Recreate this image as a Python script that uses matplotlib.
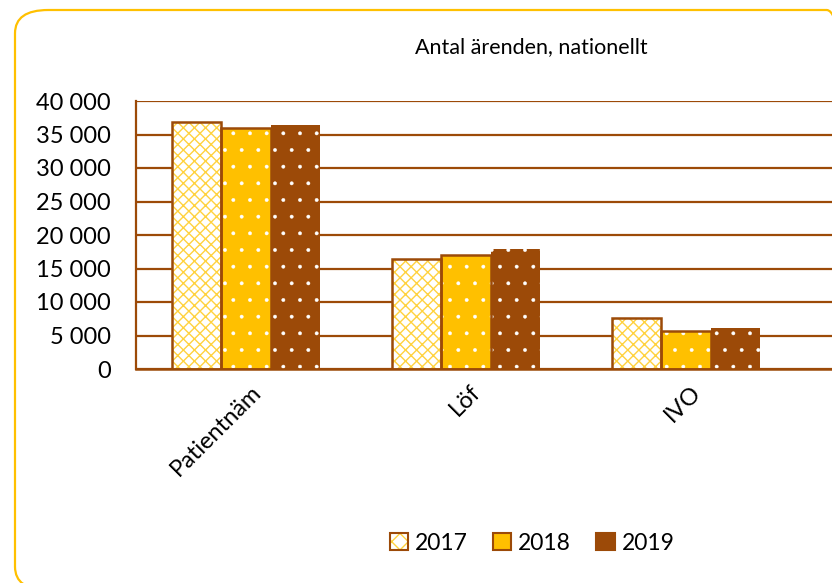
import matplotlib
matplotlib.use("Agg")
import matplotlib.pyplot as plt
import numpy as np
from matplotlib.patches import FancyBboxPatch, Patch
from matplotlib.ticker import FuncFormatter
import matplotlib.transforms as mtransforms

plt.rcParams['font.family'] = ['Lato', 'DejaVu Sans']

categories = ["Patientnäm", "Löf", "IVO"]
years = ["2017", "2018", "2019"]
v2017 = [36900, 16400, 7600]
v2018 = [36000, 17000, 5700]
v2019 = [36400, 17900, 6100]
yticks = [0, 5000, 10000, 15000, 20000, 25000, 30000, 35000, 40000]

BROWN = "#9C4A08"
GOLD = "#FFC000"
LIGHTGOLD = "#FFD23F"

W, H = 832, 583
fig = plt.figure(figsize=(W/100, H/100), dpi=100)

border = FancyBboxPatch((15/W, 1-590/H), (860-15)/W, (590-10)/H,
                        boxstyle="round,pad=0,rounding_size=0.04",
                        transform=fig.transFigure, fill=False,
                        edgecolor=GOLD, linewidth=1.6, clip_on=False)
fig.patches.append(border)

ax = fig.add_axes([136/W, 1-369/H, (W-136)/W, (369-101)/H])
x = np.arange(len(categories))
bw = 0.225

with plt.rc_context({'hatch.linewidth': 1.0}):
    ax.bar(x - bw, v2017, bw, color="white", edgecolor=LIGHTGOLD, hatch="\\\\\\///", linewidth=0, zorder=3)
with plt.rc_context({'hatch.linewidth': 0.3}):
    ax.bar(x, v2018, bw, color=GOLD, edgecolor="white", hatch=".", linewidth=0, zorder=3)
    ax.bar(x + bw, v2019, bw, color=BROWN, edgecolor="white", hatch=".", linewidth=0, zorder=3)
ax.bar(x - bw, v2017, bw, fill=False, edgecolor=BROWN, linewidth=1.8, zorder=4)
ax.bar(x, v2018, bw, fill=False, edgecolor=BROWN, linewidth=1.8, zorder=4)

ax.set_xlim(-0.5, (W - 246) / 220)
ax.set_ylim(0, 40000)
ax.set_yticks(yticks)
ax.yaxis.set_major_formatter(FuncFormatter(lambda v, p: f"{int(v):,}".replace(",", " ")))
ax.tick_params(axis='y', length=0, labelsize=17, pad=18)
ax.tick_params(axis='x', length=0, labelsize=17, pad=9)
ax.set_xticks(x)
ax.set_xticklabels(categories, rotation=45, ha='right', rotation_mode='anchor')
offset = mtransforms.ScaledTranslation(4/100, 0, fig.dpi_scale_trans)
for lbl in ax.get_xticklabels():
    lbl.set_transform(lbl.get_transform() + offset)
ax.grid(axis='y', color=BROWN, linewidth=1.6, zorder=0)
ax.set_axisbelow(True)
for s in ['top', 'right']:
    ax.spines[s].set_visible(False)
ax.spines['left'].set_color(BROWN)
ax.spines['left'].set_linewidth(1.6)
ax.spines['bottom'].set_color(BROWN)
ax.spines['bottom'].set_linewidth(1.8)
ax.spines['bottom'].set_zorder(5)

fig.text(531/W, 1-47/H, "Antal ärenden, nationellt", ha='center', va='center', fontsize=15.5)

with plt.rc_context({'hatch.linewidth': 1.0}):
    h1 = Patch(facecolor="white", edgecolor=LIGHTGOLD, hatch="\\\\//", linewidth=0)
h1b = Patch(facecolor="none", edgecolor=BROWN, linewidth=1.5)
h2 = Patch(facecolor=GOLD, edgecolor=BROWN, linewidth=1.5)
h3 = Patch(facecolor=BROWN, edgecolor=BROWN, linewidth=1.5)
leg = fig.legend([(h1, h1b), h2, h3], years, loc='center', bbox_to_anchor=(532/W, 1-543/H),
                 ncol=3, frameon=False, fontsize=16.5, handlelength=0.8, handleheight=0.8,
                 handletextpad=0.3, columnspacing=1.1)

fig.savefig("out.png", dpi=100)
